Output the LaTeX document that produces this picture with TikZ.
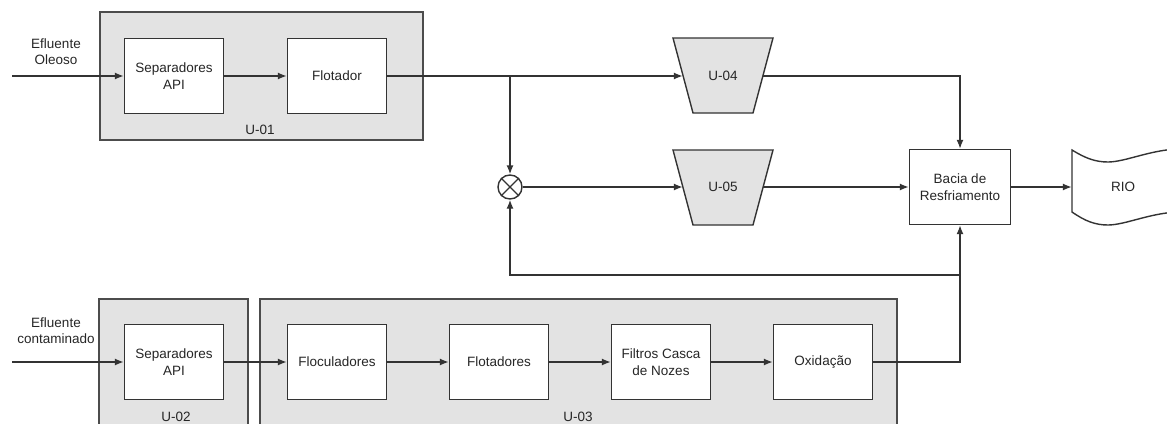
\documentclass[tikz,border=0pt]{standalone}
\usepackage{fontspec}
\setmainfont{Liberation Sans}
\usetikzlibrary{arrows.meta}
\begin{document}
\begin{tikzpicture}[x=1pt,y=-1pt,
  line/.style={draw=black!80, line width=1.4pt},
  arr/.style={line, -{Latex[length=9pt,width=7pt]}},
  txt/.style={font=\fontsize{13.5}{16.5}\selectfont, align=center, text=black!85},
  proc/.style={txt, draw=black!80, line width=1.4pt, fill=white, minimum width=99pt, minimum height=75pt, inner sep=0pt},
  unit/.style={draw=black!70, line width=1.4pt, fill=black!11},
  trapshape/.style={draw=black!80, line width=1.4pt, fill=black!11},
  trap/.style={txt, minimum width=80pt, minimum height=75pt, inner sep=0pt},
  lbl/.style={txt, inner sep=0pt}
]
\useasboundingbox (0,0) rectangle (1167,423);

% unit boxes
\draw[unit] (100,12) rectangle (423,140);
\draw[unit] (99,440) -- (99,299) -- (248,299) -- (248,440);
\draw[unit] (260,440) -- (260,299) -- (897,299) -- (897,440);
\node[lbl] (u01) at (260,130) {U-01};
\node[lbl] (u02) at (176,417) {U-02};
\node[lbl] (u03) at (578,417) {U-03};

% trapezoids
\draw[trapshape] (673,38) -- (773,38) -- (753,113) -- (693,113) -- cycle;
\draw[trapshape] (673,150) -- (773,150) -- (753,225) -- (693,225) -- cycle;

% process boxes
\node[proc] (sep1) at (174,76) {Separadores\\API};
\node[proc] (flot) at (337,76) {Flotador};
\node[trap] (u04) at (723,76) {U-04};
\node[trap] (u05) at (723,187) {U-05};
\node[proc, minimum width=101pt] (bacia) at (960,187) {Bacia de\\Resfriamento};
\node[proc] (sep2) at (174,362) {Separadores\\API};
\node[proc] (floc) at (337,362) {Floculadores};
\node[proc] (flots) at (499,362) {Flotadores};
\node[proc] (filt) at (661,362) {Filtros Casca\\de Nozes};
\node[proc] (oxi) at (823,362) {Oxidação};

% mixer
\node[circle, draw=black!80, line width=1.4pt, minimum size=24pt, inner sep=0pt] (mix) at (510,187) {};
\draw[line] (mix.north west) -- (mix.south east) (mix.north east) -- (mix.south west);

% river
\draw[line, fill=white] (1072,150) .. controls (1085,158) and (1095,162) .. (1108,162)
  .. controls (1125,162) and (1150,150) .. (1178,149) -- (1178,212)
  .. controls (1150,213) and (1125,225) .. (1108,225)
  .. controls (1095,225) and (1085,221) .. (1072,212) -- cycle;
\node[txt, minimum width=102pt, minimum height=62pt, inner sep=0pt] (rio) at (1123,187) {RIO};

% labels
\node[lbl] (ef1) at (56,51.5) {Efluente\\Oleoso};
\node[lbl] (ef2) at (56,330.5) {Efluente\\contaminado};

% coordinates
\coordinate (in1) at (12,76);
\coordinate (in2) at (12,362);
\coordinate (j) at (510,76);
\coordinate (k) at (960,275);

% connectors
\draw[arr] (in1) -- (sep1);
\draw[arr] (sep1) -- (flot);
\draw[line] (flot) -- (j);
\draw[arr] (j) -- (u04);
\draw[arr] (j) -- (mix);
\draw[arr] (mix) -- (u05);
\draw[arr] (u04) -- (u04 -| bacia) -- (bacia);
\draw[arr] (u05) -- (bacia);
\draw[arr] (bacia) -- (rio);
\draw[arr] (in2) -- (sep2);
\draw[arr] (sep2) -- (floc);
\draw[arr] (floc) -- (flots);
\draw[arr] (flots) -- (filt);
\draw[arr] (filt) -- (oxi);
\draw[arr] (oxi) -- (oxi -| bacia) -- (bacia);
\draw[arr] (k) -- (k -| mix) -- (mix);
\end{tikzpicture}
\end{document}
